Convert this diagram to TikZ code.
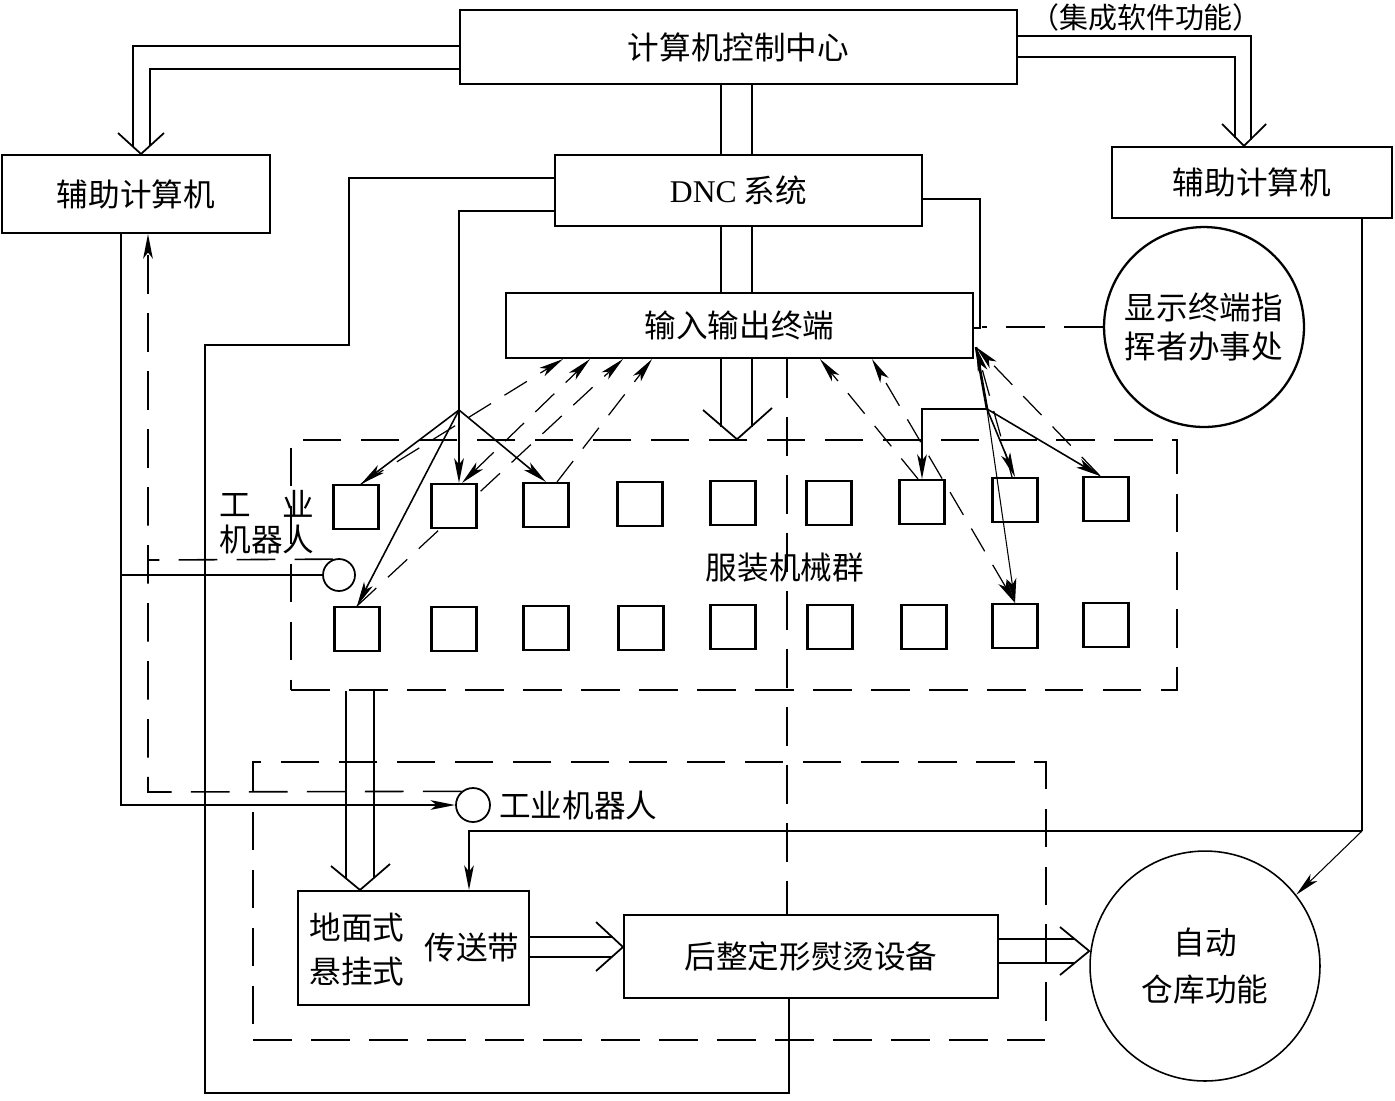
\documentclass[tikz,border=0pt]{standalone}
\usepackage{fontspec}
\setmainfont{Liberation Serif}
\newfontfamily\cjk{Noto Sans CJK SC}
\usetikzlibrary{arrows.meta,calc}
\pgfdeclarelayer{bg}
\pgfsetlayers{bg,main}
\begin{document}
\begin{tikzpicture}[x=0.02cm,y=-0.02cm,
  every node/.style={font=\cjk\fontsize{18}{22}\selectfont},
  box/.style={draw,line width=1.2pt,inner sep=0pt},
  sq/.style={draw,line width=1.2pt,fill=white,minimum width=0.9cm,minimum height=0.88cm,inner sep=0pt},
  ln/.style={line width=0.9pt},
  fine/.style={line width=0.6pt},
  dsh/.style={line width=0.9pt,dash pattern=on 22pt off 11pt},
  dsa/.style={line width=0.7pt,dash pattern=on 15pt off 9pt},
  arrowend/.style={-{Stealth[length=14pt,width=5.5pt,inset=3.5pt]}},
  arrowboth/.style={{Stealth[length=14pt,width=5.5pt,inset=3.5pt]}-{Stealth[length=14pt,width=5.5pt,inset=3.5pt]}},
  chev/.style={line width=1pt,line join=miter}
]
\useasboundingbox (0,0) rectangle (1395,1100);

% ---------- main boxes ----------
\node[box,minimum width=11.14cm,minimum height=1.48cm] (top) at (738.5,47) {计算机控制中心};
\node[box,minimum width=5.36cm,minimum height=1.56cm] (la) at (136,194) {辅助计算机};
\node[box,minimum width=5.6cm,minimum height=1.42cm] (ra) at (1252,182.5) {辅助计算机};
\node[box,minimum width=7.34cm,minimum height=1.42cm] (dnc) at (738.5,190.5) {{\rmfamily DNC} 系统};
\node[box,minimum width=9.34cm,minimum height=1.3cm] (io) at (739.5,325.5) {输入输出终端};
\node[draw,circle,line width=1.3pt,minimum size=4cm,inner sep=0pt,align=center,
      font=\cjk\fontsize{18}{22.7}\selectfont] (disp) at (1204,327) {显示终端指\\挥者办事处};
\node[box,minimum width=4.62cm,minimum height=2.28cm] (gm) at (413.5,948) {};
\node[align=center,font=\cjk\fontsize{18}{25.5}\selectfont] (gmt) at (357,949.5) {地面式\\悬挂式};
\node (cs) at (472,947) {传送带};
\node[box,minimum width=7.48cm,minimum height=1.66cm] (hz) at (811,956.5) {后整定形熨烫设备};
\node[draw,circle,line width=0.9pt,minimum size=4.6cm,inner sep=0pt,align=center,
      font=\cjk\fontsize{18}{27}\selectfont] (wh) at (1205,966) {自动\\仓库功能};

% ---------- group frames ----------
\node[draw,dsh,minimum width=17.72cm,minimum height=5cm,inner sep=0pt] (grp1) at (734,565) {};
\node[draw,dsh,minimum width=15.86cm,minimum height=5.56cm,inner sep=0pt] (grp2) at (649.5,901) {};

% ---------- machines ----------
\foreach \n/\x/\y in {11/356/507,12/454/506,13/546/505,14/640/504,15/733/503,16/829/503,17/922/502,18/1015/500,19/1106/499,
                      21/357/629,22/454/629,23/546/628,24/641/628,25/733/627,26/830/627,27/924/627,28/1015/626,29/1106/625}
  \node[sq] (s\n) at (\x,\y) {};

% ---------- robots ----------
\node[draw,circle,line width=1pt,minimum size=0.64cm,inner sep=0pt] (rb1) at (339,575) {};
\node[draw,circle,line width=1pt,minimum size=0.68cm,inner sep=0pt] (rb2) at (473,805) {};

% ---------- labels ----------
\node[align=center,font=\cjk\fontsize{18}{20}\selectfont] (lab1) at (267,522) {工\hspace{1em}业\\机器人};
\node[anchor=west] (lab2) at (493,805) {工业机器人};
\node (lab3) at (785,568) {服装机械群};
\node[font=\cjk\fontsize{16.5}{20}\selectfont] (lab4) at (1146,17) {（集成软件功能）};

\coordinate (B) at (459,410);
\coordinate (C) at ($(io.south east)+(2,-12)$);
\coordinate (J) at (987,409);
\coordinate (K) at (1362,831);

\begin{pgfonlayer}{bg}
% top -> left aux (double arrow)
\draw[ln] (top.west |- 0,46) -- (133,46) -- (133,147.3);
\draw[ln] (top.west |- 0,69) -- (150,69) -- (150,146.4);
\draw[chev] (118,133) -- (la.north -| 141,0) -- (164,133);
% top -> right aux (double arrow)
\draw[ln] (top.east |- 0,36) -- (1251,36) -- (1251,139.7);
\draw[ln] (top.east |- 0,57) -- (1235,57) -- (1235,137.6);
\draw[chev] (1222,124) -- (ra.north -| 1244,0) -- (1266,124);
% top -> dnc -> io -> machines
\draw[ln] (top.south -| 721,0) -- (dnc.north -| 721,0);
\draw[ln] (top.south -| 752,0) -- (dnc.north -| 752,0);
\draw[ln] (dnc.south -| 721,0) -- (io.north -| 721,0);
\draw[ln] (dnc.south -| 752,0) -- (io.north -| 752,0);
\draw[ln] (io.south -| 721,0) -- (721,427);
\draw[ln] (io.south -| 752,0) -- (752,427.4);
\draw[chev] (703,410) -- (grp1.north -| 737,0) -- (772,408);

% dnc loop to finishing equipment
\draw[ln] (dnc.west |- 0,178) -- (349,178) -- (349,345) -- (205,345) -- (205,1093) -- (789,1093) -- (hz.south -| 789,0);
% dnc to machines
\draw[ln] (dnc.west |- 0,211) -| (B);
\draw[line width=1.3pt,arrowend] (B) -- (s12.north -| 459,0);
\draw[ln,arrowend] (B) -- ($(s11.north)+(5,0)$);
\draw[ln,arrowend] (B) -- (s13.north);
\draw[ln,arrowend] (B) -- (s21.north);
% dnc -> io right side, display terminal
\draw[ln] (dnc.east |- 0,199) -- (980,199) -- (980,328) -- (io.east |- 0,328);
\draw[dsh] (disp.west) -- (982,327);

% left feedback dashed arrows
\draw[dsa,arrowend] ($(s11.north)+(5,0)$) -- (io.south -| 563,0);
\draw[dsa,arrowboth] ($(s12.north)+(8,0)$) -- (io.south -| 590,0);
\draw[dsa,arrowend] (s21.north) -- (io.south -| 623,0);
\draw[dsa,arrowend] ($(s13.north)+(11,0)$) -- (io.south -| 652,0);
% right dashed arrows
\draw[dsa,arrowend] ($(s17.north)+(-4,0)$) -- (io.south -| 820,0);
\draw[dsa,arrowboth] (s28.north) -- (io.south -| 872,0);
\draw[dsa,arrowend] ($(s18.north)+(-3,0)$) -- (C);
\draw[dsa,arrowend] ($(s19.north)+(-6,0)$) -- (C);
% right solid distribution
\draw[line width=1.5pt] (C) -- (J);
\draw[ln,arrowend] (J) -| (s17.north);
\draw[ln,arrowend] (J) -- (s18.north);
\draw[ln,arrowend] (J) -- ($(s19.north)+(-6,0)$);

% left aux -> robots, robots -> left aux
\draw[ln,arrowend] (la.south -| 121,0) -- (121,805) -- (rb2.west);
\draw[ln] (121,575) -- (rb1.west);
\draw[dsh,arrowend] (rb2.130) -- (148,792) -- (la.south -| 148,0);
\draw[dsh] (rb1.110) -- (148,560);

% machine group -> conveyor
\draw[ln] (grp1.south -| 346,0) -- (346,879);
\draw[ln] (grp1.south -| 374,0) -- (374,878.4);
\draw[chev] (331,866) -- (gm.north -| 360,0) -- (390,864);
% conveyor -> finishing
\draw[ln] (gm.east |- 0,937) -- (612.8,937);
\draw[ln] (gm.east |- 0,957) -- (612.3,957);
\draw[chev] (596,922) -- (hz.west |- 0,947) -- (596,971);
% finishing -> warehouse
\draw[ln] (hz.east |- 0,939) -- (1074.5,939);
\draw[ln] (hz.east |- 0,963) -- (1074.5,963);
\draw[chev] (1060,927) -- (wh.west |- 0,951) -- (1060,975);
% right aux -> warehouse and conveyor
\draw[ln] (ra.south -| K) -- (K);
\draw[fine,arrowend] (K) -- (wh.38);
\draw[ln,arrowend] (K) -- (469,831) -- (gm.north -| 469,0);
% io -> finishing dashed
\draw[dsh] (io.south -| 787,0) -- (hz.north -| 787,0);
\end{pgfonlayer}

% thin line drawn over the machine it crosses
\draw[fine,arrowend] (J) -- (s28.north);
\end{tikzpicture}
\end{document}
